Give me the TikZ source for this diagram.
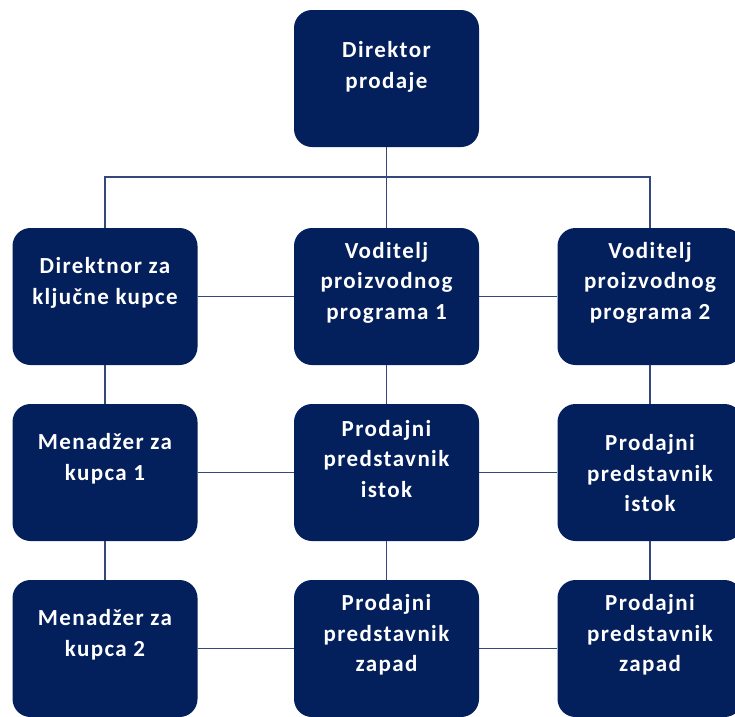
\documentclass[tikz,border=0pt]{standalone}
\usepackage{fontspec}
\setmainfont{Carlito}[LetterSpace=6]
\definecolor{boxnavy}{RGB}{3,31,92}
\definecolor{linknavy}{RGB}{52,72,125}
\begin{document}
\begin{tikzpicture}[x=1pt,y=-1pt,
  box/.style={fill=boxnavy,rounded corners=18pt,minimum width=185pt,minimum height=137pt,inner sep=0pt},
  txt/.style={text=white,font=\fontsize{23}{30.5}\selectfont\bfseries,align=center,inner sep=0pt},
  link/.style={draw=linknavy,line width=1.7pt}]
\useasboundingbox (0,0) rectangle (735,716);
\coordinate (bus) at (386.5,177);
\coordinate (busL) at (105,177);
\coordinate (busR) at (650,177);
% boxes
\node[box] (dp) at (386.5,78.5) {};
\node[box] (dk) at (105,296.5) {};
\node[box] (v1) at (386.5,296.5) {};
\node[box] (v2) at (650,296.5) {};
\node[box] (m1) at (105,472.5) {};
\node[box] (pi1) at (386.5,472.5) {};
\node[box] (pi2) at (650,472.5) {};
\node[box] (m2) at (105,648.5) {};
\node[box] (pz1) at (386.5,648.5) {};
\node[box] (pz2) at (650,648.5) {};
% connectors
\draw[link] (dp.south) -- (bus);
\draw[link] (dk.north) -- (busL) -- (busR) -- (v2.north);
\draw[link] (bus) -- (v1.north);
\draw[link] (dk.east) -- (v1.west);
\draw[link] (v1.east) -- (v2.west);
\draw[link] (dk.south) -- (m1.north);
\draw[link] (v1.south) -- (pi1.north);
\draw[link] (v2.south) -- (pi2.north);
\draw[link] (m1.east) -- (pi1.west);
\draw[link] (pi1.east) -- (pi2.west);
\draw[link] (m1.south) -- (m2.north);
\draw[link] (pi1.south) -- (pz1.north);
\draw[link] (pi2.south) -- (pz2.north);
\draw[link] (m2.east) -- (pz1.west);
\draw[link] (pz1.east) -- (pz2.west);
% texts
\node[txt] (tdp) at ([yshift=-57pt]dp.north) {Direktor\\prodaje};
\node[txt] (tdk) at ([yshift=-55pt]dk.north) {Direktnor za\\ključne kupce};
\node[txt] (tv1) at ([yshift=-55pt]v1.north) {Voditelj\\proizvodnog\\programa 1};
\node[txt] (tv2) at ([yshift=-55pt]v2.north) {Voditelj\\proizvodnog\\programa 2};
\node[txt] (tm1) at ([yshift=-55pt]m1.north) {Menadžer za\\kupca 1};
\node[txt] (tpi1) at ([yshift=-55pt]pi1.north) {Prodajni\\predstavnik\\istok};
\node[txt] (tpi2) at ([yshift=-1pt]pi2.center) {Prodajni\\predstavnik\\istok};
\node[txt] (tm2) at ([yshift=-55pt]m2.north) {Menadžer za\\kupca 2};
\node[txt] (tpz1) at ([yshift=-55pt]pz1.north) {Prodajni\\predstavnik\\zapad};
\node[txt] (tpz2) at ([yshift=-55pt]pz2.north) {Prodajni\\predstavnik\\zapad};
\end{tikzpicture}
\end{document}
